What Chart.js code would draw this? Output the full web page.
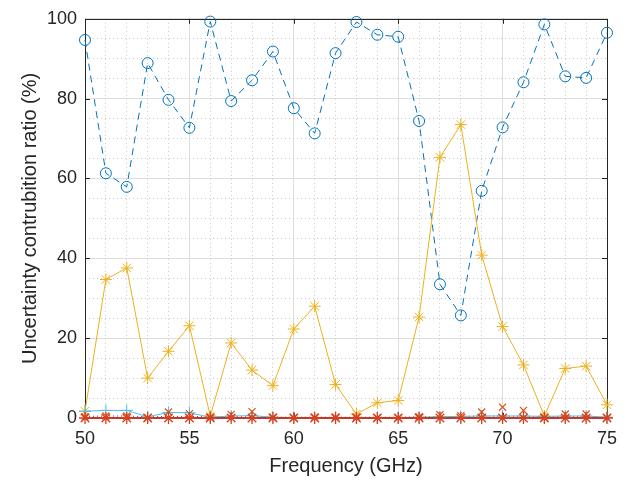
<!DOCTYPE html>
<html>
<head>
<meta charset="utf-8">
<script src="https://cdn.jsdelivr.net/npm/chart.js@4/dist/chart.umd.min.js"></script>
<style>
  html, body { margin: 0; padding: 0; background: #fff; }
  #wrap { width: 641px; height: 482px; }
</style>
</head>
<body>
<div id="wrap"><canvas id="ratioChart" width="641" height="482"></canvas></div>
<script>
// frequency points (GHz)
const freq = [50, 51, 52, 53, 54, 55, 56, 57, 58, 59, 60, 61, 62, 63, 64, 65, 66, 67, 68, 69, 70, 71, 72, 73, 74, 75];

// contribution ratios (%)
const blueCircle = [94.7, 61.3, 57.9, 88.9, 79.7, 72.7, 99.3, 79.4, 84.6, 91.8, 77.6, 71.3, 91.4, 99.2, 96.0, 95.5, 74.4, 33.5, 25.7, 56.9, 72.8, 84.1, 98.6, 85.6, 85.2, 96.5];
const orangeStar = [1.7, 34.7, 37.6, 10.0, 16.7, 23.1, 0.5, 18.8, 12.0, 8.1, 22.3, 28.0, 8.4, 1.0, 3.8, 4.4, 25.3, 65.3, 73.5, 40.8, 22.9, 13.3, 0.5, 12.4, 13.0, 3.3];
const purpleDot = [0.4, 0.5, 0.5, 0.3, 0.4, 0.4, 0.3, 0.3, 0.3, 0.2, 0.2, 0.2, 0.2, 0.2, 0.2, 0.2, 0.3, 0.3, 0.4, 0.5, 0.5, 0.4, 0.3, 0.4, 0.4, 0.2];
const lightBluePlus = [1.7, 1.9, 1.9, 0.3, 1.4, 1.3, 0.2, 0.5, 0.6, 0.2, 0.1, 0.1, 0.1, 0.1, 0.1, 0.1, 0.2, 0.3, 0.4, 0.5, 0.5, 0.5, 0.4, 0.5, 0.5, 0.2];
const redCross = [0.3, 0.5, 0.5, 0.1, 1.5, 1.1, 0.2, 0.9, 1.6, 0.2, 0.1, 0.2, 0.2, 0.2, 0.1, 0.1, 0.3, 0.8, 0.6, 1.5, 2.7, 1.9, 0.1, 1.0, 1.0, 0.1];
const darkRedStar = [0, 0, 0, 0, 0, 0, 0, 0, 0, 0, 0, 0, 0, 0, 0, 0, 0, 0, 0, 0, 0, 0, 0, 0, 0, 0];

const xTicksMajor = [50, 55, 60, 65, 70, 75];
const yTicksMajor = [0, 20, 40, 60, 80, 100];

function pts(vals) {
    return freq.map((f, i) => ({ x: f, y: vals[i] }));
}

const axisColor = '#262626';
const fontFamily = '"Liberation Sans", Arial, Helvetica, sans-serif';

// box around the axes + inward tick marks, like matlab's "box on"
const boxPlugin = {
    id: 'box',
    beforeDatasetsDraw(chart) {
        const { ctx, chartArea: a, scales } = chart;
        ctx.save();
        ctx.strokeStyle = axisColor;
        ctx.lineWidth = 1;
        ctx.strokeRect(Math.round(a.left) + 0.5, Math.round(a.top) + 0.5,
            Math.round(a.right - a.left), Math.round(a.bottom - a.top));
        const tl = 5;
        ctx.beginPath();
        xTicksMajor.forEach(v => {
            const px = Math.round(scales.x.getPixelForValue(v)) + 0.5;
            ctx.moveTo(px, a.bottom); ctx.lineTo(px, a.bottom - tl);
            ctx.moveTo(px, a.top); ctx.lineTo(px, a.top + tl);
        });
        yTicksMajor.forEach(v => {
            const py = Math.round(scales.y.getPixelForValue(v)) + 0.5;
            ctx.moveTo(a.left, py); ctx.lineTo(a.left + tl, py);
            ctx.moveTo(a.right, py); ctx.lineTo(a.right - tl, py);
        });
        ctx.stroke();
        ctx.restore();
    }
};

const config = {
    type: 'line',
    data: {
        datasets: [
            {
                data: pts(darkRedStar),
                borderColor: '#C8361E',
                borderWidth: 2,
                pointStyle: 'star',
                pointRadius: 6,
                pointBorderColor: '#D8401F',
                pointBorderWidth: 1.3,
                clip: false,
                order: 1
            },
            {
                data: pts(redCross),
                showLine: false,
                pointStyle: 'crossRot',
                pointRadius: 5,
                pointBorderColor: '#D95319',
                pointBorderWidth: 1.2,
                clip: false,
                order: 2
            },
            {
                data: pts(lightBluePlus),
                borderColor: '#4DBEEE',
                borderWidth: 1,
                pointStyle: 'cross',
                pointRadius: 6,
                pointBorderColor: '#4DBEEE',
                pointBorderWidth: 1,
                clip: false,
                order: 3
            },
            {
                data: pts(purpleDot),
                borderColor: '#7E2F8E',
                borderWidth: 1,
                borderDash: [1, 3],
                pointRadius: 0,
                clip: false,
                order: 4
            },
            {
                data: pts(orangeStar),
                borderColor: '#EDB120',
                borderWidth: 1,
                pointStyle: 'star',
                pointRadius: 6,
                pointBorderColor: '#EDB120',
                pointBorderWidth: 1,
                clip: false,
                order: 5
            },
            {
                data: pts(blueCircle),
                borderColor: '#0072BD',
                borderWidth: 1,
                borderDash: [7, 5],
                pointStyle: 'circle',
                pointRadius: 5.5,
                pointBackgroundColor: 'rgba(0,0,0,0)',
                pointBorderColor: '#0072BD',
                pointBorderWidth: 1,
                clip: false,
                order: 6
            }
        ]
    },
    options: {
        responsive: false,
        animation: false,
        layout: {
            padding: { left: 0, top: 13, right: 34, bottom: 0 }
        },
        plugins: {
            legend: { display: false },
            tooltip: { enabled: false }
        },
        scales: {
            x: {
                type: 'linear',
                min: 50,
                max: 75,
                afterFit: function(scale) { scale.height = 64; },
                ticks: {
                    stepSize: 1,
                    autoSkip: false,
                    maxRotation: 0,
                    padding: 10,
                    color: axisColor,
                    font: { family: fontFamily, size: 18 },
                    callback: function(value) {
                        return value % 5 === 0 ? value : '';
                    }
                },
                grid: {
                    drawTicks: false,
                    color: ctx => (ctx.tick && ctx.tick.value % 5 === 0) ? '#dedede' : '#c8c8c8',
                    lineWidth: 1
                },
                border: {
                    display: false,
                    dash: ctx => (ctx.tick && ctx.tick.value % 5 === 0) ? [] : [1, 3]
                },
                title: {
                    display: true,
                    text: 'Frequency (GHz)',
                    color: axisColor,
                    font: { family: fontFamily, size: 20 },
                    padding: { top: 0, bottom: 4 }
                }
            },
            y: {
                type: 'linear',
                min: 0,
                max: 100,
                afterFit: function(scale) { scale.width = 85; },
                ticks: {
                    stepSize: 5,
                    autoSkip: false,
                    padding: 8,
                    color: axisColor,
                    font: { family: fontFamily, size: 18 },
                    callback: function(value) {
                        return value % 20 === 0 ? value : '';
                    }
                },
                grid: {
                    drawTicks: false,
                    color: ctx => (ctx.tick && ctx.tick.value % 20 === 0) ? '#dedede' : '#c8c8c8',
                    lineWidth: 1
                },
                border: {
                    display: false,
                    dash: ctx => (ctx.tick && ctx.tick.value % 20 === 0) ? [] : [1, 3]
                },
                title: {
                    display: true,
                    text: 'Uncertainty contrubition ratio (%)',
                    color: axisColor,
                    font: { family: fontFamily, size: 20 },
                    padding: { top: 18, bottom: 0 }
                }
            }
        }
    },
    plugins: [boxPlugin]
};

new Chart(document.getElementById('ratioChart').getContext('2d'), config);
</script>
</body>
</html>
